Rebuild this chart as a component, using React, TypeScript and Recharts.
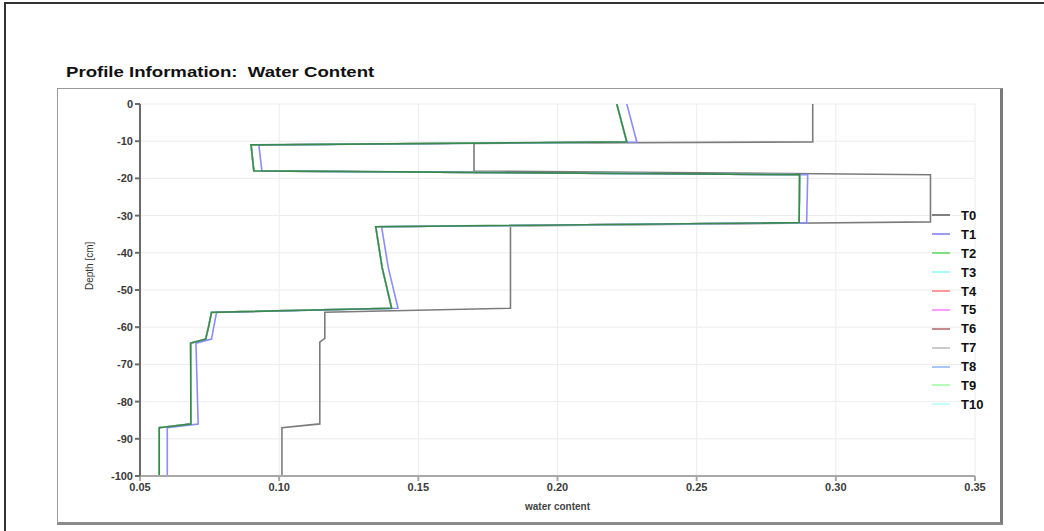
import { LineChart, Line, XAxis, YAxis, CartesianGrid, Legend } from "recharts";

// depth in cm (negative downward) and water content
const depthT0 = [0, -10.2, -10.6, -18, -19, -31.7, -32.8, -54.9, -56, -63, -64, -86, -87, -100];
const wcT0 = [0.2917, 0.2917, 0.17, 0.17, 0.334, 0.334, 0.1831, 0.1831, 0.1164, 0.1164, 0.1146, 0.1146, 0.101, 0.101];

const depthT = [0, -10.2, -11, -18, -19, -31.9, -33, -44, -54.9, -56, -60, -63.2, -64.3, -86, -87, -100];
const wcT1 = [0.2249, 0.2285, 0.0927, 0.0938, 0.2899, 0.2895, 0.1368, 0.1392, 0.1427, 0.0775, 0.0765, 0.0757, 0.0701, 0.0709, 0.0598, 0.0598];
const wcT2 = [0.2213, 0.2249, 0.0899, 0.0909, 0.287, 0.2868, 0.1347, 0.137, 0.1404, 0.0757, 0.0746, 0.0736, 0.0682, 0.0683, 0.0569, 0.0569];

const seriesNames = ["T0", "T1", "T2", "T3", "T4", "T5", "T6", "T7", "T8", "T9", "T10"];
const legendColors = ["#808080", "#9a9aff", "#7fe07f", "#a6ffff", "#ff9a9a", "#ff9aff", "#c48a8a", "#cccccc", "#a6c8ff", "#b4ffb4", "#c4ffff"];

const xTicks = [0.05, 0.1, 0.15, 0.2, 0.25, 0.3, 0.35];
const yTicks = [0, -10, -20, -30, -40, -50, -60, -70, -80, -90, -100];

const toRows = (depth: number[], wc: number[]) => depth.map((d, i) => ({ depth: d, wc: wc[i] }));

const dataT0 = toRows(depthT0, wcT0);
const dataT1 = toRows(depthT, wcT1);
const dataT2 = toRows(depthT, wcT2);

const font = "'Liberation Sans', Arial, sans-serif";
const tickStyle = { fontSize: 11, fontWeight: 700, fill: "#3a3a3a", fontFamily: font };

function LegendBox() {
  return (
    <div style={{ fontFamily: font }}>
      {seriesNames.map((n, i) => (
        <div key={n} style={{ display: "flex", alignItems: "center", height: 18.9 }}>
          <div style={{ width: 18, height: 2, background: legendColors[i] }} />
          <span style={{ marginLeft: 11, fontSize: 13, fontWeight: 700, color: "#111" }}>{n}</span>
        </div>
      ))}
    </div>
  );
}

export default function App() {
  return (
    <div style={{ position: "absolute", left: 0, top: 0, width: 1044, height: 531, background: "#fff", overflow: "hidden" }}>
      <div style={{ position: "absolute", left: 4, top: 2, right: -4, bottom: -4, borderTop: "2px solid #333", borderLeft: "2px solid #333" }} />
      <div
        style={{
          position: "absolute",
          left: 66,
          top: 63,
          fontFamily: font,
          fontWeight: 700,
          fontSize: 15,
          color: "#111",
          whiteSpace: "pre",
          transform: "scaleX(1.24)",
          transformOrigin: "left center",
        }}
      >
        {"Profile Information:  Water Content"}
      </div>
      <div
        style={{
          position: "absolute",
          left: 57,
          top: 88,
          width: 946,
          height: 437,
          boxSizing: "border-box",
          border: "1px solid #9a9a9a",
          borderRight: "3px solid #7a7a7a",
          borderBottom: "3px solid #8a8a8a",
        }}
      />
      <div style={{ position: "absolute", left: 57, top: 88 }}>
        <LineChart width={946} height={437} margin={{ top: 16, right: 28, bottom: 0, left: 0 }}>
          <CartesianGrid stroke="#ececec" strokeWidth={1} />
          <XAxis
            type="number"
            dataKey="wc"
            domain={[0.05, 0.35]}
            ticks={xTicks}
            allowDataOverflow
            tickFormatter={(v: number) => v.toFixed(2)}
            tick={tickStyle}
            stroke="#a8a8a8"
            strokeWidth={2}
            tickSize={5}
            height={49}
            label={{ value: "water content", position: "insideBottom", offset: 15, fontSize: 10, fontWeight: 700, fill: "#444", fontFamily: font }}
          />
          <XAxis
            xAxisId="top"
            orientation="top"
            type="number"
            domain={[0.05, 0.35]}
            ticks={xTicks}
            tick={false}
            stroke="#bdbdbd"
            strokeWidth={2}
            tickSize={3}
            height={0}
          />
          <YAxis
            type="number"
            domain={[-100, 0]}
            ticks={yTicks}
            allowDataOverflow
            tick={tickStyle}
            stroke="#6a6a6a"
            strokeWidth={2}
            tickSize={5}
            width={83}
            label={{ value: "Depth [cm]", angle: -90, position: "insideLeft", offset: 32, fontSize: 10, fill: "#333", fontFamily: font }}
          />
          <Legend
            layout="horizontal"
            align="center"
            verticalAlign="middle"
            content={() => <LegendBox />}
            wrapperStyle={{ left: 875, top: 118, width: 80 }}
          />
          <Line data={dataT0} dataKey="depth" name="T0" stroke="#7c7c7c" strokeWidth={1.6} dot={false} isAnimationActive={false} />
          {seriesNames.slice(3).map((n, i) => (
            <Line key={n} data={dataT2} dataKey="depth" name={n} stroke={legendColors[i + 3]} strokeWidth={1.5} dot={false} isAnimationActive={false} />
          ))}
          <Line data={dataT1} dataKey="depth" name="T1" stroke="#8c8cff" strokeWidth={1.6} dot={false} isAnimationActive={false} />
          <Line data={dataT2} dataKey="depth" name="T2" stroke="#3b8a4c" strokeWidth={1.7} dot={false} isAnimationActive={false} />
        </LineChart>
      </div>
    </div>
  );
}
